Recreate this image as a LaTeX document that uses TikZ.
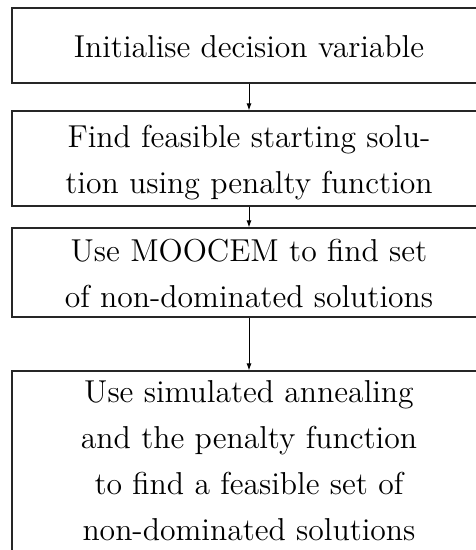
\documentclass[tikz,border=0pt]{standalone}
\usetikzlibrary{arrows.meta}
\newcommand\boxtext[2][0pt]{\vbox to 0pt{\vss\kern#1\hbox{\scalebox{2.64}{\fontsize{12pt}{17.42pt}\selectfont\begin{tabular}{@{}c@{}}#2\end{tabular}}}\vss}}
\begin{document}
\begin{tikzpicture}[x=1pt,y=-1pt,
  box/.style={draw=black!85, line width=1.1pt, minimum width=474pt, inner sep=0pt, align=center},
  conn/.style={draw=black, line width=1pt, -{Latex[length=7pt,width=5pt]}}]
\useasboundingbox (0,0) rectangle (476,550);
\node[box, minimum height=75pt] (b1) at (249,45.5) {\boxtext[6pt]{Initialise decision variable}};
\node[box, minimum height=95pt] (b2) at (249,158.5) {\boxtext[6pt]{Find feasible starting solu-\\tion using penalty function}};
\node[box, minimum height=89pt] (b3) at (249,272.5) {\boxtext[6pt]{Use MOOCEM to find set\\of non-dominated solutions}};
\node[box, minimum height=182pt] (b4) at (249,462) {\boxtext{Use simulated annealing\\and the penalty function\\to find a feasible set of\\non-dominated solutions}};
\draw[conn] (b1.south) -- (b2.north);
\draw[conn] (b2.south) -- (b3.north);
\draw[conn] (b3.south) -- (b4.north);
\end{tikzpicture}
\end{document}
